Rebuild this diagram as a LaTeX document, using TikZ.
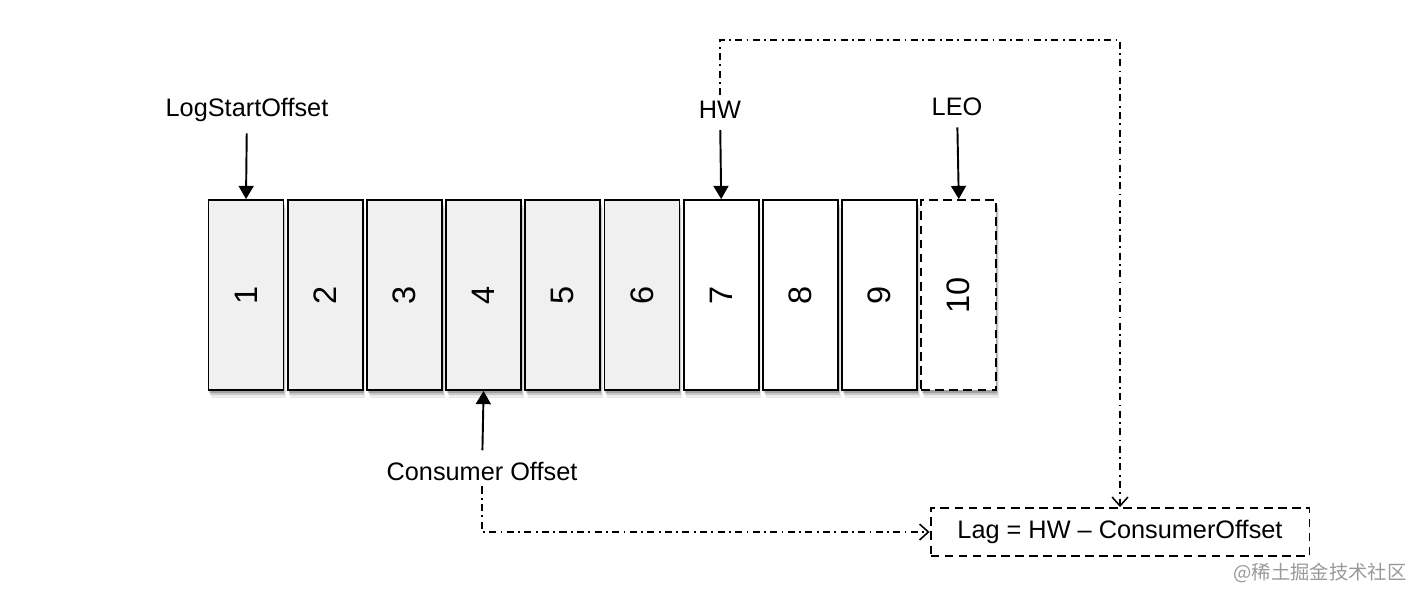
\documentclass[tikz,border=0pt]{standalone}
\usepackage{fontspec}
\usepackage{graphicx}
\setmainfont{Liberation Sans}
\newfontfamily\cjkfont{Noto Sans CJK SC}
\usetikzlibrary{arrows.meta,shadows}
\definecolor{cellgray}{RGB}{240,240,240}
\tikzset{px/.style={x=0.02cm,y=-0.02cm,font=\fontsize{14.4}{17}\selectfont}}
\tikzset{cell/.style={draw,line width=1.1pt,minimum width=1.5cm,minimum height=3.8cm,inner sep=0pt,
           font=\fontsize{18.5}{20}\selectfont,
           drop shadow={shadow xshift=1.5pt,shadow yshift=-4.5pt,fill=black,opacity=.08},
           drop shadow={shadow xshift=1pt,shadow yshift=-3pt,fill=black,opacity=.15},
           drop shadow={shadow xshift=.5pt,shadow yshift=-1.5pt,fill=black,opacity=.2}},
         ptr/.style={-{Triangle[length=7.5pt,width=8.5pt]},line width=1.1pt,shorten <=3pt},
         lagline/.style={-{Straight Barb[length=5pt,width=9pt]},line width=.9pt,
           dash pattern=on 4pt off 2.5pt on 1pt off 2.5pt}}

\begin{document}
\begin{tikzpicture}[px]
    \useasboundingbox (0,0) rectangle (1418,600);
    % log segments
    \foreach \i/\fc in {1/cellgray,2/cellgray,3/cellgray,4/cellgray,5/cellgray,6/cellgray,7/white,8/white,9/white}
      \node[cell,fill=\fc] (b\i) at ({246+79.2*(\i-1)},295) {\rotatebox{90}{\i}};
    \node[cell,fill=white,dash pattern=on 5pt off 3pt] (b10) at (958.8,295) {\rotatebox{90}{10}};
    % offsets
    \node (lso) at (247,110) {LogStartOffset};
    \node (hw)  at (720,110) {HW};
    \node (leo) at (957,107) {LEO};
    \node (co)  at (482,471) {Consumer Offset};
    \draw[ptr] (lso) -- (b1.north);
    \draw[ptr] (hw)  -- (b7.north);
    \draw[ptr] (leo) -- (b10.north);
    \draw[ptr] (co)  -- (b4.south);
    % lag
    \node[draw,line width=1.1pt,dash pattern=on 5pt off 3pt,minimum width=7.58cm,minimum height=0.96cm] (lag) at (1120,532) {Lag = HW – ConsumerOffset};
    \coordinate (bend) at (0,40);
    \draw[lagline] (hw.north) -- (hw.north |- bend) -| (lag.north);
    \draw[lagline] (co.south) |- (lag.west);
    \node[text=black!40,font=\cjkfont\fontsize{11}{12}\selectfont] (wm) at (1320,573) {@稀土掘金技术社区};
\end{tikzpicture}
\end{document}
